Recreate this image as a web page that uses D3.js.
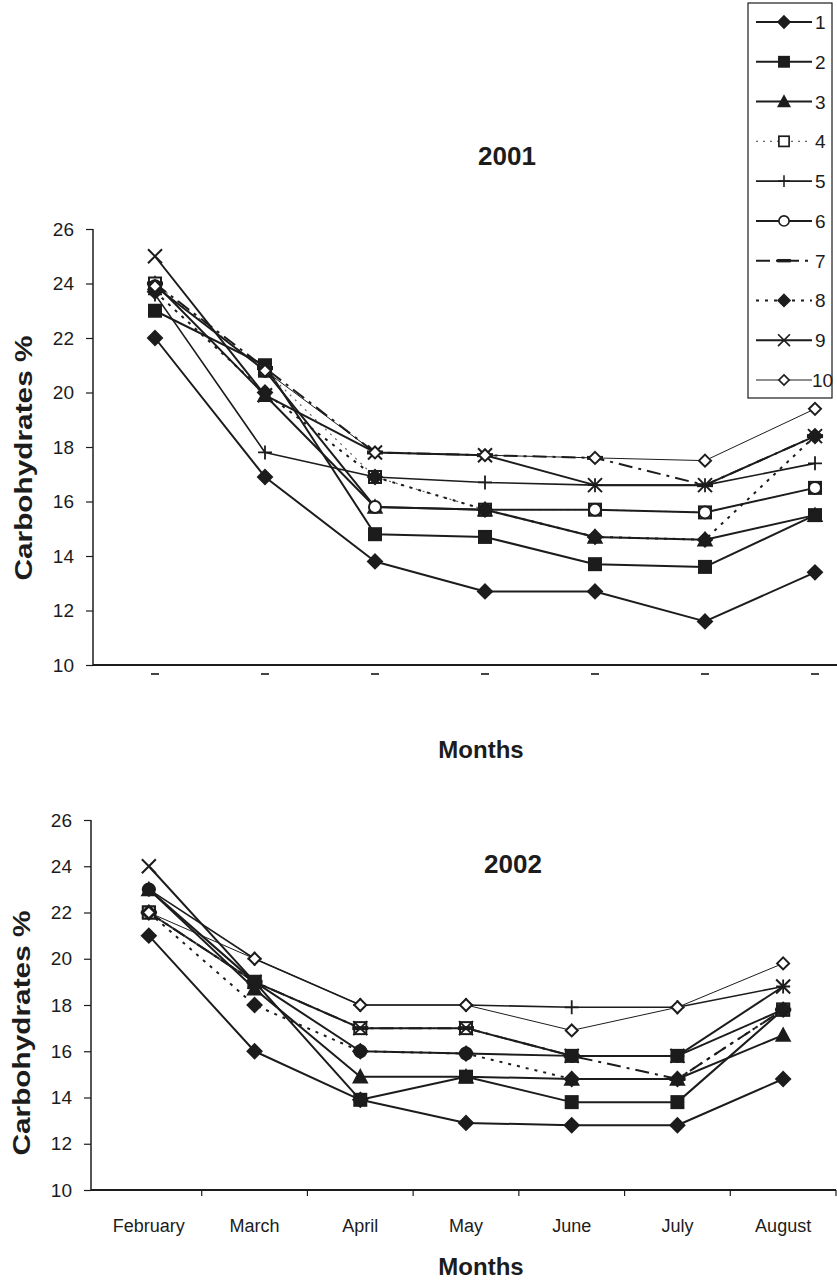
<!DOCTYPE html>
<html>
<head>
<meta charset="utf-8">
<script src="https://cdn.jsdelivr.net/npm/d3@7"></script>
<style>
  body { margin: 0; background: #fff; }
  svg { display: block; }
  text { font-family: "Liberation Sans", Arial, sans-serif; fill: #1c1c1c; }
</style>
</head>
<body>
<svg id="chart" width="837" height="1285"></svg>
<script>
var months = ["February", "March", "April", "May", "June", "July", "August"];
var seriesNames = ["1", "2", "3", "4", "5", "6", "7", "8", "9", "10"];
var yTicks = [10, 12, 14, 16, 18, 20, 22, 24, 26];

// carbohydrates %, one row per series, Feb..Aug
var carb2001 = [
  [22.0, 16.9, 13.8, 12.7, 12.7, 11.6, 13.4],
  [23.0, 21.0, 14.8, 14.7, 13.7, 13.6, 15.5],
  [24.0, 19.9, 15.8, 15.7, 14.7, 14.6, 15.5],
  [24.0, 20.8, 16.9, 15.7, 15.7, 15.6, 16.5],
  [23.6, 17.8, 16.9, 16.7, 16.6, 16.6, 17.4],
  [23.9, 20.8, 15.8, 15.7, 15.7, 15.6, 16.5],
  [24.0, 20.9, 17.8, 17.7, 17.6, 16.6, 18.4],
  [23.7, 20.0, 16.9, 15.7, 14.7, 14.6, 18.4],
  [25.0, 19.9, 17.8, 17.7, 16.6, 16.6, 18.4],
  [23.9, 20.8, 17.8, 17.7, 17.6, 17.5, 19.4]
];
var carb2002 = [
  [21.0, 16.0, 13.9, 12.9, 12.8, 12.8, 14.8],
  [22.0, 19.0, 13.9, 14.9, 13.8, 13.8, 17.8],
  [23.0, 18.7, 14.9, 14.9, 14.8, 14.8, 16.7],
  [22.0, 19.0, 17.0, 17.0, 15.8, 15.8, 17.8],
  [23.0, 20.0, 18.0, 18.0, 17.9, 17.9, 18.8],
  [23.0, 19.0, 16.0, 15.9, 15.8, 15.8, 17.8],
  [22.0, 19.0, 17.0, 17.0, 15.8, 14.8, 17.8],
  [22.0, 18.0, 16.0, 15.9, 14.8, 14.8, 17.8],
  [24.0, 19.0, 17.0, 17.0, 15.8, 15.8, 18.8],
  [22.0, 20.0, 18.0, 18.0, 16.9, 17.9, 19.8]
];

var ink = "#1c1c1c";
var styles = [
  {mark: "diamond", fill: true,  dash: null,        w: 2},
  {mark: "square",  fill: true,  dash: null,        w: 2},
  {mark: "triangle",fill: true,  dash: null,        w: 2},
  {mark: "square",  fill: false, dash: "2,5",       w: 1.2, color: "#666"},
  {mark: "plus",    fill: false, dash: null,        w: 1.6},
  {mark: "circle",  fill: false, dash: null,        w: 2},
  {mark: "bar",     fill: true,  dash: "14,6,3,6",  w: 2},
  {mark: "diamond", fill: true,  dash: "3,6",       w: 2},
  {mark: "cross",   fill: false, dash: null,        w: 2},
  {mark: "diamond", fill: false, dash: null,        w: 1}
];

var svg = d3.select("#chart");

function drawMarker(g, st, x, y, filledOverride, k) {
  var c = st.color || ink;
  var s = k || 1;
  var filled = filledOverride === undefined ? st.fill : filledOverride;
  var fill = filled ? c : "#fff";
  var m = g.append("g").attr("transform", "translate(" + x + "," + y + ") scale(" + s + ")");
  if (st.mark === "diamond") {
    var r = st.fill ? 7 : 6;
    m.append("path").attr("d", "M0," + (-r) + "L" + r + ",0L0," + r + "L" + (-r) + ",0Z")
      .attr("fill", fill).attr("stroke", c).attr("stroke-width", 2);
  } else if (st.mark === "square") {
    m.append("rect").attr("x", -6).attr("y", -6).attr("width", 12).attr("height", 12)
      .attr("fill", fill).attr("stroke", filled ? c : ink).attr("stroke-width", 2);
  } else if (st.mark === "triangle") {
    m.append("path").attr("d", "M0,-7L7,6L-7,6Z").attr("fill", fill).attr("stroke", c).attr("stroke-width", 1.5);
  } else if (st.mark === "circle") {
    m.append("circle").attr("r", 6).attr("fill", fill).attr("stroke", c).attr("stroke-width", 2);
  } else if (st.mark === "plus") {
    m.append("path").attr("d", "M-7,0H7M0,-7V7").attr("stroke", c).attr("stroke-width", 1.8);
  } else if (st.mark === "cross") {
    m.append("path").attr("d", "M-7,-7L7,7M-7,7L7,-7").attr("stroke", c).attr("stroke-width", 2);
  } else if (st.mark === "bar") {
    m.append("rect").attr("x", -8).attr("y", -2).attr("width", 16).attr("height", 4).attr("fill", c);
  }
}

function drawPanel(p) {
  var g = svg.append("g");
  var x = d3.scaleBand().domain(months).range([p.bandL, p.bandR]);
  var cx = function(m) { return x(m) + x.bandwidth() / 2; };
  var y = d3.scaleLinear().domain([10, 26]).range([p.yBottom, p.yTop]);

  // y axis
  var yAxis = d3.axisLeft(y).tickValues(yTicks).tickSize(7).tickPadding(12);
  var ya = g.append("g").attr("transform", "translate(" + p.axisX + ",0)").call(yAxis);
  ya.select(".domain").attr("stroke", ink).attr("stroke-width", 1.5).attr("d", "M0," + y(26) + "V" + y(10));
  ya.selectAll(".tick line").attr("stroke", ink).attr("stroke-width", 1.2);
  ya.selectAll(".tick text").attr("font-size", 19).attr("fill", ink)
    .style("font-family", "'Liberation Sans', Arial, sans-serif");

  // x axis line
  g.append("line").attr("x1", p.axisX).attr("x2", p.axisRight)
    .attr("y1", y(10)).attr("y2", y(10)).attr("stroke", ink).attr("stroke-width", 2);

  if (p.monthLabels) {
    var bounds = months.map(function(m) { return x(m) + x.bandwidth(); });
    g.selectAll(".xt").data(bounds).enter().append("line")
      .attr("x1", function(d) { return d; }).attr("x2", function(d) { return d; })
      .attr("y1", y(10)).attr("y2", y(10) + 6).attr("stroke", ink).attr("stroke-width", 1.2);
    g.selectAll(".xl").data(months).enter().append("text")
      .attr("x", cx).attr("y", p.monthY).attr("text-anchor", "middle")
      .attr("font-size", 18).text(function(d) { return d; });
  } else {
    g.selectAll(".xm").data(months).enter().append("line")
      .attr("x1", function(d) { return cx(d) - 4; }).attr("x2", function(d) { return cx(d) + 4; })
      .attr("y1", y(10) + 9).attr("y2", y(10) + 9).attr("stroke", "#444").attr("stroke-width", 2);
  }

  // titles
  g.append("text").attr("x", p.titleX).attr("y", p.titleY).attr("text-anchor", "middle")
    .attr("font-size", 26).attr("font-weight", "bold").text(p.title);
  g.append("text").attr("x", 481).attr("y", p.xTitleY).attr("text-anchor", "middle")
    .attr("font-size", 24).attr("font-weight", "bold").text("Months");
  g.append("text").attr("transform", "translate(" + p.yTitleX + "," + p.yTitleY + ") rotate(-90)")
    .attr("text-anchor", "middle").attr("font-size", 23).attr("font-weight", "bold")
    .attr("textLength", 245).attr("lengthAdjust", "spacingAndGlyphs")
    .text("Carbohydrates %");

  // lines
  var line = d3.line().x(function(d, i) { return cx(months[i]); }).y(function(d) { return y(d); });
  p.data.forEach(function(vals, k) {
    var st = styles[k];
    g.append("path").attr("d", line(vals)).attr("fill", "none")
      .attr("stroke", st.color || ink).attr("stroke-width", st.w)
      .attr("stroke-dasharray", st.dash).attr("stroke-linejoin", "round");
  });
  // markers
  p.data.forEach(function(vals, k) {
    var st = styles[k];
    vals.forEach(function(v, i) {
      drawMarker(g, st, cx(months[i]), y(v), p.fillOverride ? p.fillOverride[k] : undefined);
    });
  });
}

drawPanel({
  data: carb2001, bandL: 100, bandR: 870, axisX: 93, axisRight: 837,
  yTop: 229, yBottom: 665, monthLabels: false,
  title: "2001", titleX: 507, titleY: 165, xTitleY: 758,
  yTitleX: 32, yTitleY: 458
});

drawPanel({
  data: carb2002, bandL: 96, bandR: 836, axisX: 91, axisRight: 836,
  yTop: 820, yBottom: 1190, monthLabels: true, monthY: 1232,
  title: "2002", titleX: 513, titleY: 873, xTitleY: 1275,
  yTitleX: 30, yTitleY: 1033,
  fillOverride: [undefined, undefined, undefined, undefined, undefined, true]
});

// legend
var lg = svg.append("g");
lg.append("rect").attr("x", 748).attr("y", 3).attr("width", 84).attr("height", 395)
  .attr("fill", "#fff").attr("stroke", ink).attr("stroke-width", 1.2);
var rowY = d3.scalePoint().domain(seriesNames).range([22, 380]);
seriesNames.forEach(function(name, k) {
  var st = styles[k];
  var yy = rowY(name);
  lg.append("line").attr("x1", 756).attr("x2", 812).attr("y1", yy).attr("y2", yy)
    .attr("stroke", st.color || ink).attr("stroke-width", st.w).attr("stroke-dasharray", st.dash);
  drawMarker(lg, st, 784, yy, undefined, 0.85);
  lg.append("text").attr("x", name === "10" ? 812 : 815).attr("y", yy + 7).attr("font-size", 19).text(name);
});
</script>
</body>
</html>
